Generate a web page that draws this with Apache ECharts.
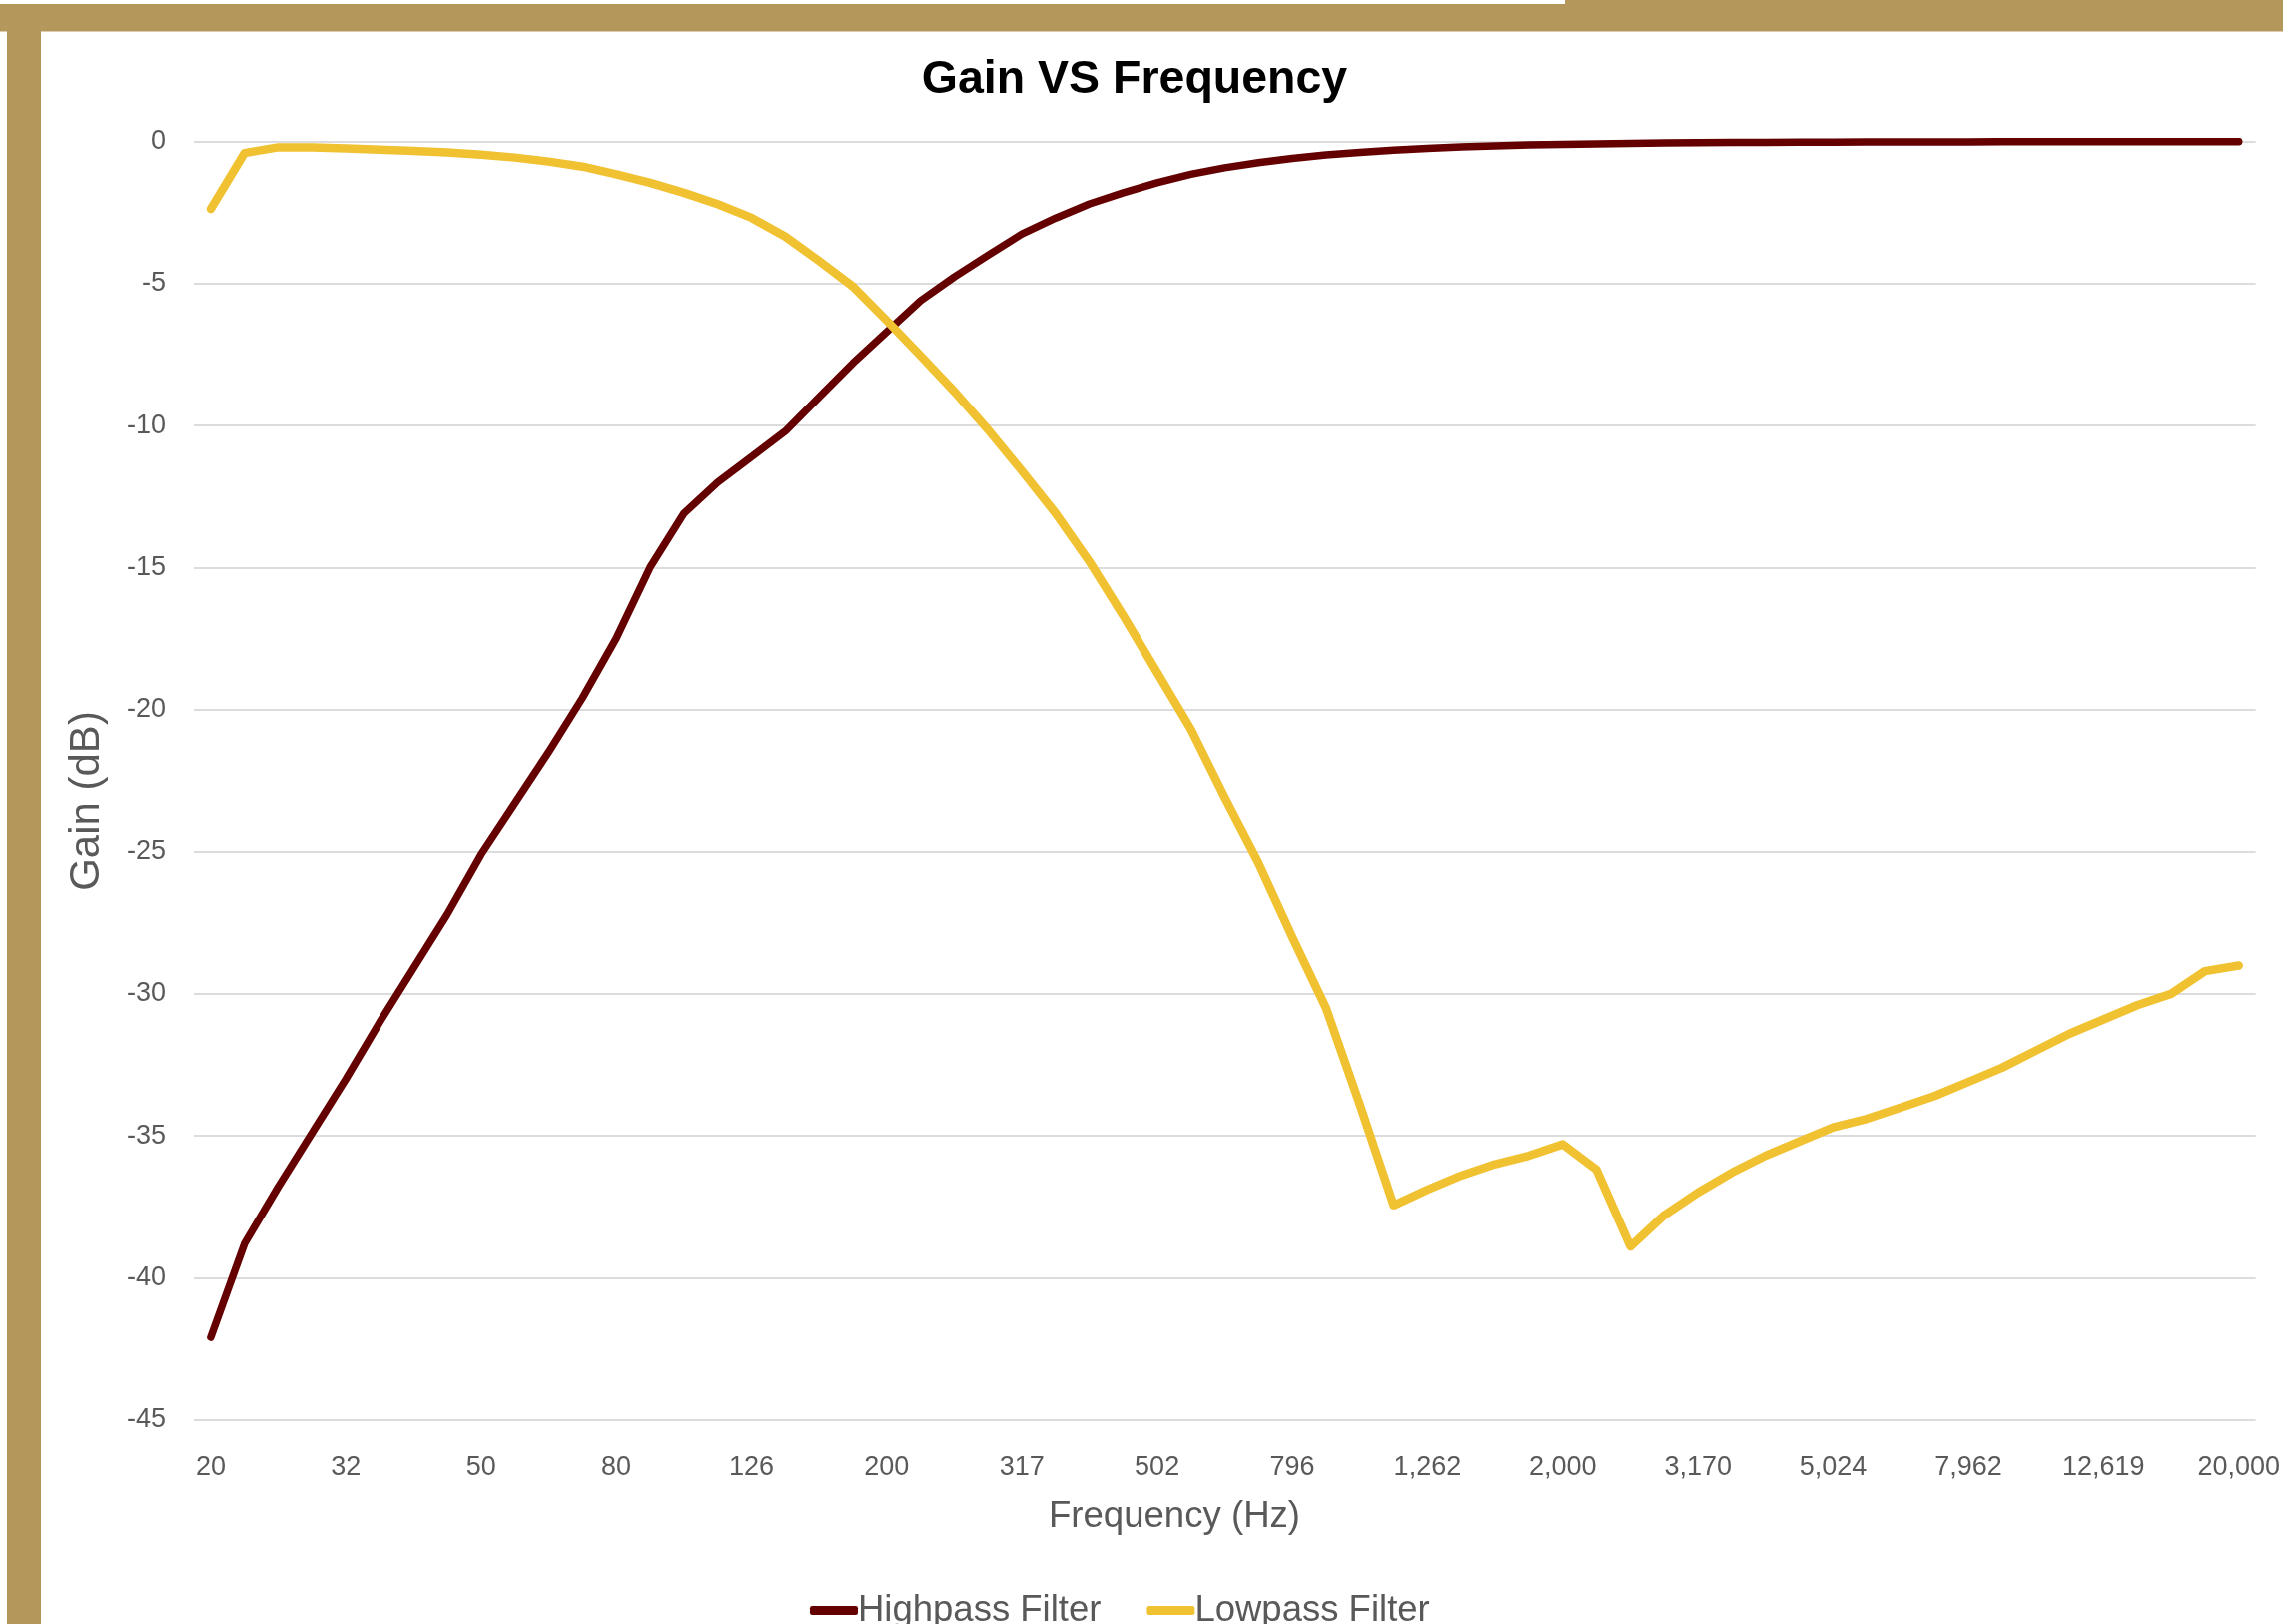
<!DOCTYPE html>
<html>
<head>
<meta charset="UTF-8">
<title>Gain VS Frequency</title>
<script src="https://cdn.jsdelivr.net/npm/echarts@6/dist/echarts.min.js"></script>
<style>
	html, body { margin: 0; padding: 0; background: #fff; }
	#main { width: 2286px; height: 1626px; }
</style>
</head>
<body>
	<div id="main"></div>

<script type="text/javascript">
	// frequency steps (Hz), 20 per decade
	var freqs = [20, 22, 25, 28, 32, 36, 40, 45, 50, 56, 63, 71, 80, 89, 100, 112,
		126, 142, 159, 178, 200, 224, 252, 283, 317, 356, 399, 448, 502, 564, 632, 710,
		796, 893, 1002, 1125, 1262, 1416, 1589, 1783, 2000, 2244, 2518, 2825, 3170, 3557,
		3991, 4477, 5024, 5637, 6325, 7096, 7962, 8934, 10024, 11247, 12619, 14159, 15887,
		17825, 20000];

	// gain in dB
	var highpass = [-42.1, -38.8, -36.8, -34.9, -33.0, -31.0, -29.1, -27.2, -25.1, -23.3,
		-21.5, -19.6, -17.5, -15.0, -13.1, -12.0, -11.1, -10.2, -9.0, -7.8, -6.7, -5.6,
		-4.76, -4.0, -3.25, -2.69, -2.19, -1.80, -1.45, -1.15, -0.92, -0.74, -0.59, -0.47,
		-0.38, -0.30, -0.24, -0.19, -0.15, -0.12, -0.10, -0.08, -0.06, -0.05, -0.04, -0.03,
		-0.03, -0.02, -0.02, -0.01, -0.01, -0.01, -0.01, 0, 0, 0, 0, 0, 0, 0, 0];

	var lowpass = [-2.37, -0.4, -0.2, -0.2, -0.24, -0.28, -0.33, -0.38, -0.46, -0.56,
		-0.7, -0.88, -1.15, -1.45, -1.8, -2.2, -2.68, -3.34, -4.2, -5.1, -6.3, -7.54,
		-8.8, -10.15, -11.6, -13.1, -14.8, -16.7, -18.7, -20.7, -23.1, -25.4, -28.0,
		-30.5, -33.9, -37.45, -36.9, -36.4, -36.0, -35.7, -35.3, -36.2, -38.9, -37.8,
		-37.0, -36.3, -35.7, -35.2, -34.7, -34.4, -34.0, -33.6, -33.1, -32.6, -32.0,
		-31.4, -30.9, -30.4, -30.0, -29.2, -29.0];

	var seriesNames = ['Highpass Filter', 'Lowpass Filter'];
	var seriesColors = ['#650000', '#f0c232'];

	var gold = '#b4975a';
	var gray = '#595959';
	var fontName = '"Liberation Sans", Arial, sans-serif';

	var myChart = echarts.init(document.getElementById('main'));

	var option = {
		backgroundColor: '#fff',
		animation: false,
		grid: {
			left: 194,
			right: 27,
			top: 141.7,
			bottom: 204.5,
			containLabel: false
		},
		legend: {
			data: seriesNames,
			left: 806,
			top: 1589,
			icon: 'roundRect',
			itemWidth: 48,
			itemHeight: 9,
			itemGap: 46,
			textStyle: {
				color: gray,
				fontSize: 36.5,
				fontFamily: fontName,
				padding: [0, 0, 0, -5]
			}
		},
		xAxis: {
			type: 'category',
			boundaryGap: true,
			data: freqs,
			axisLine: { show: false },
			axisTick: { show: false },
			splitLine: { show: false },
			axisLabel: {
				interval: 3,
				margin: 35,
				color: gray,
				fontSize: 27,
				fontFamily: fontName,
				formatter: function (v) {
					return Number(v).toLocaleString('en-US');
				}
			}
		},
		yAxis: {
			type: 'value',
			min: -45,
			max: 0,
			interval: 5,
			axisLine: { show: false },
			axisTick: { show: false },
			axisLabel: {
				margin: 28,
				color: gray,
				fontSize: 27,
				fontFamily: fontName
			},
			splitLine: {
				lineStyle: { color: '#dcdcdc', width: 2 }
			}
		},
		graphic: [
			// gold frame
			{ type: 'rect', shape: { x: 0, y: 4, width: 2286, height: 27.5 }, style: { fill: gold }, silent: true },
			{ type: 'rect', shape: { x: 1567, y: 0, width: 719, height: 4 }, style: { fill: gold }, silent: true },
			{ type: 'rect', shape: { x: 7, y: 4, width: 34, height: 1622 }, style: { fill: gold }, silent: true },
			{
				type: 'text', x: 1136, y: 80,
				style: {
					text: 'Gain VS Frequency', fill: '#000',
					font: 'bold 46.5px ' + fontName,
					align: 'center', verticalAlign: 'middle',
					textAlign: 'center', textVerticalAlign: 'middle'
				}
			},
			{
				type: 'text', x: 1176, y: 1519,
				style: {
					text: 'Frequency (Hz)', fill: gray,
					font: '36.6px ' + fontName,
					align: 'center', verticalAlign: 'middle',
					textAlign: 'center', textVerticalAlign: 'middle'
				}
			},
			{
				type: 'text', x: 87, y: 802, rotation: Math.PI / 2,
				style: {
					text: 'Gain (dB)', fill: gray,
					font: '42px ' + fontName,
					align: 'center', verticalAlign: 'middle',
					textAlign: 'center', textVerticalAlign: 'middle'
				}
			}
		],
		series: [{
			name: seriesNames[0],
			type: 'line',
			data: highpass,
			symbol: 'none',
			color: seriesColors[0],
			lineStyle: { width: 7.5, cap: 'round', join: 'round' }
		}, {
			name: seriesNames[1],
			type: 'line',
			data: lowpass,
			symbol: 'none',
			color: seriesColors[1],
			lineStyle: { width: 8.5, cap: 'round', join: 'round' }
		}]
	};

	myChart.setOption(option);
</script>
</body>
</html>
